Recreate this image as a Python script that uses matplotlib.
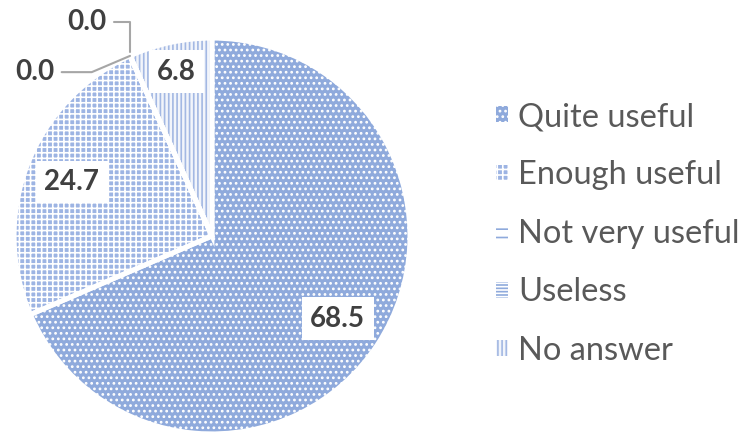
import numpy as np
import matplotlib.pyplot as plt

plt.rcParams['font.family'] = ['Lato', 'DejaVu Sans']
plt.rcParams['hatch.linewidth'] = 1.2

categories = ['Quite useful', 'Enough useful', 'Not very useful', 'Useless', 'No answer']
values = [68.5, 24.7, 0.0, 0.0, 6.8]

face_colors = ['#8faadc', '#9db4e3', '#ffffff', '#ffffff', '#f2f5fb']
hatch_colors = ['#ffffff', '#ffffff', '#8faadc', '#8faadc', '#a3b8e3']
hatches = ['...', '+++', '--', '-----', '||||']

fig, ax = plt.subplots(figsize=(7.43, 4.33), dpi=100)
fig.subplots_adjust(left=0.0, right=0.5707, bottom=-0.002, top=0.912)

wedges, _ = ax.pie(values, startangle=90, counterclock=False, radius=1,
                   colors=face_colors, wedgeprops=dict(linewidth=0))
for w, h, hc in zip(wedges, hatches, hatch_colors):
    w.set_hatch(h)
    w.set_edgecolor(hc)

# white borders between slices
ax.pie(values, startangle=90, counterclock=False, radius=1,
       colors=['none'] * len(values),
       wedgeprops=dict(linewidth=3.5, edgecolor='white'))

box = dict(boxstyle='square,pad=0.3', facecolor='white', edgecolor='none')
lab_style = dict(fontsize=20, fontweight='bold', color='#404040',
                 ha='center', va='center')

for i, w in enumerate(wedges):
    ang = np.deg2rad((w.theta1 + w.theta2) / 2)
    if values[i] > 20:
        r = 0.76
    elif values[i] > 0:
        r = 0.85
    else:
        continue
    ax.text(r * np.cos(ang), r * np.sin(ang), f'{values[i]:.1f}', bbox=box, **lab_style)

# leader lines for zero slices
edge = np.deg2rad(wedges[2].theta1)
px, py = np.cos(edge), np.sin(edge)
ax.annotate(f'{values[2]:.1f}', xy=(px, py), xytext=(-0.894, 0.828),
            arrowprops=dict(arrowstyle='-', color='#a6a6a6', lw=1.5,
                            shrinkA=3, shrinkB=0,
                            connectionstyle='angle,angleA=0,angleB=23,rad=0'),
            **lab_style)
ax.annotate(f'{values[3]:.1f}', xy=(px, py + 0.02), xytext=(-0.631, 1.081),
            arrowprops=dict(arrowstyle='-', color='#a6a6a6', lw=1.5,
                            shrinkA=3, shrinkB=0,
                            connectionstyle='angle,angleA=0,angleB=90,rad=0'),
            **lab_style)

ax.set_aspect('equal')
ax.set_xlim(-1.07, 1.07)
ax.set_ylim(-1.0, 1.0)

leg = fig.legend(wedges, categories, loc='center left', bbox_to_anchor=(0.65, 0.46),
                 frameon=False, fontsize=23.5, labelcolor='#595959',
                 handlelength=0.38, handleheight=0.38, handletextpad=0.3,
                 labelspacing=0.87, borderaxespad=0)

fig.savefig('out.png', dpi=100)
